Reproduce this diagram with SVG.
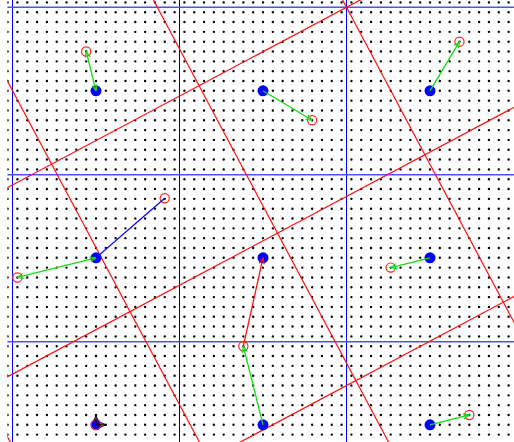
<svg xmlns="http://www.w3.org/2000/svg" width="514" height="442" viewBox="0 0 514 442">
<style>
.dots{fill:none;stroke:#000;stroke-width:2.4;stroke-linecap:round;stroke-dasharray:0 9.8235}
.vline{stroke:#0000ff;stroke-width:1;fill:none}
.hline{stroke:#5050ff;stroke-width:1.6;fill:none}
.rline{stroke:#ff1010;stroke-width:1.2;fill:none}
.node{fill:#0000ff}
.target{fill:none;stroke:#ff2020;stroke-width:1.2}
.ga{stroke:#11dd11;stroke-width:1.3;fill:none}
.ra{stroke:#ff1010;stroke-width:1.3;fill:none}
.ba{stroke:#0000ff;stroke-width:1.2;fill:none}
.ax{stroke:#000;stroke-width:1.2;fill:none}
</style>
<defs>
<clipPath id="area"><rect x="7.4" y="0" width="507" height="442"/></clipPath>
<marker id="hg" viewBox="0 0 8 8" refX="7.5" refY="4" markerWidth="7" markerHeight="7" markerUnits="userSpaceOnUse" orient="auto-start-reverse"><path d="M0.5,1 L7.5,4 L0.5,7" fill="none" stroke="#11dd11" stroke-width="1.3"/></marker>
<marker id="hr" viewBox="0 0 8 8" refX="7.5" refY="4" markerWidth="7" markerHeight="7" markerUnits="userSpaceOnUse" orient="auto-start-reverse"><path d="M0.5,1 L7.5,4 L0.5,7" fill="none" stroke="#ff1010" stroke-width="1.3"/></marker>
<marker id="hk" viewBox="0 0 8 8" refX="7.5" refY="4" markerWidth="6" markerHeight="6" markerUnits="userSpaceOnUse" orient="auto"><path d="M0.5,1 L7.5,4 L0.5,7" fill="none" stroke="#000" stroke-width="1.3"/></marker>
</defs>
<rect width="514" height="442" fill="#fff"/>
<g clip-path="url(#area)">
<g id="dot-grid">
<path class="dots" d="M7.59 2.39H514M7.59 12.21H514M7.59 22.04H514M7.59 31.86H514M7.59 41.68H514M7.59 51.51H514M7.59 61.33H514M7.59 71.15H514M7.59 80.98H514M7.59 90.8H514M7.59 100.63H514M7.59 110.45H514M7.59 120.27H514M7.59 130.1H514M7.59 139.92H514M7.59 149.74H514M7.59 159.57H514M7.59 169.39H514M7.59 179.21H514M7.59 189.04H514M7.59 198.86H514M7.59 208.68H514M7.59 218.51H514M7.59 228.33H514M7.59 238.15H514M7.59 247.98H514M7.59 257.8H514M7.59 267.62H514M7.59 277.45H514M7.59 287.27H514M7.59 297.1H514M7.59 306.92H514M7.59 316.74H514M7.59 326.57H514M7.59 336.39H514M7.59 346.21H514M7.59 356.04H514M7.59 365.86H514M7.59 375.68H514M7.59 385.51H514M7.59 395.33H514M7.59 405.15H514M7.59 414.98H514M7.59 424.8H514M7.59 434.62H514"/>
</g>
<g id="blue-grid">
<line class="vline" x1="12.5" y1="0" x2="12.5" y2="442"/>
<line class="vline" x1="179.5" y1="0" x2="179.5" y2="442" style="stroke:#00007a"/>
<line class="vline" x1="346.5" y1="0" x2="346.5" y2="442"/>
<line class="hline" x1="0" y1="7.3" x2="514" y2="7.3"/>
<line class="hline" x1="0" y1="174.7" x2="514" y2="174.7"/>
<line class="hline" x1="0" y1="341.8" x2="514" y2="341.8"/>
</g>
<g id="rotated-grid" transform="rotate(-28 346.5 7.3)">
<line class="rline" x1="-800" y1="7.3" x2="1400" y2="7.3"/>
<line class="rline" x1="-800" y1="174.3" x2="1400" y2="174.3"/>
<line class="rline" x1="-800" y1="341.3" x2="1400" y2="341.3"/>
<line class="rline" x1="346.5" y1="-800" x2="346.5" y2="1400"/>
<line class="rline" x1="179.5" y1="-800" x2="179.5" y2="1400"/>
<line class="rline" x1="12.5" y1="-800" x2="12.5" y2="1400"/>
<line class="rline" x1="-154.5" y1="-800" x2="-154.5" y2="1400"/>
</g>
</g>
<g id="node-0-0"><circle class="node" cx="96" cy="90.8" r="5.5"/></g>
<g id="node-1-0"><circle class="node" cx="263" cy="90.8" r="5.5"/></g>
<g id="node-2-0"><circle class="node" cx="430" cy="90.8" r="5.5"/></g>
<g id="node-0-1"><circle class="node" cx="96" cy="257.8" r="5.5"/></g>
<g id="node-1-1"><circle class="node" cx="263" cy="257.8" r="5.5"/></g>
<g id="node-2-1"><circle class="node" cx="430" cy="257.8" r="5.5"/></g>
<g id="node-0-2"><circle class="node" cx="96" cy="424.8" r="5.5"/><circle class="target" cx="96" cy="424.8" r="4.8"/></g>
<g id="node-1-2"><circle class="node" cx="263" cy="424.8" r="5.5"/></g>
<g id="node-2-2"><circle class="node" cx="430" cy="424.8" r="5.5"/></g>
<g id="target-a"><circle class="target" cx="86.18" cy="51.51" r="4.6"/></g>
<g id="target-b"><circle class="target" cx="312.12" cy="120.27" r="4.6"/></g>
<g id="target-c"><circle class="target" cx="459.47" cy="41.68" r="4.6"/></g>
<g id="target-d"><circle class="target" cx="17.41" cy="277.45" r="4.6"/></g>
<g id="target-e"><circle class="target" cx="164.7" cy="198.2" r="4.6"/></g>
<g id="target-f"><circle class="target" cx="390.7" cy="267.62" r="4.6"/></g>
<g id="target-g"><circle class="target" cx="469.29" cy="414.98" r="4.6"/></g>
<g id="target-h"><circle class="target" cx="243.35" cy="346.21" r="4.6"/></g>
<g id="connectors">
<line class="ga" x1="96" y1="90.8" x2="86.18" y2="51.51" marker-start="url(#hg)" marker-end="url(#hg)"/>
<line class="ga" x1="263" y1="90.8" x2="312.12" y2="120.27" marker-end="url(#hg)"/>
<line class="ga" x1="430" y1="90.8" x2="459.47" y2="41.68" marker-end="url(#hg)"/>
<line class="ga" x1="96" y1="257.8" x2="17.41" y2="277.45" marker-start="url(#hg)" marker-end="url(#hg)"/>
<line class="ba" x1="96" y1="257.8" x2="164.7" y2="198.2"/>
<line class="ga" x1="430" y1="257.8" x2="390.7" y2="267.62" marker-end="url(#hg)"/>
<line class="ra" x1="243.35" y1="346.21" x2="263" y2="257.8" marker-end="url(#hr)"/>
<line class="ga" x1="263" y1="424.8" x2="243.35" y2="346.21" marker-end="url(#hg)"/>
<line class="ga" x1="430" y1="424.8" x2="469.29" y2="414.98" marker-end="url(#hg)"/>
<line class="ax" x1="96" y1="424.8" x2="106" y2="424.8" marker-end="url(#hk)"/>
<line class="ax" x1="96" y1="424.8" x2="96" y2="415.5" marker-end="url(#hk)"/>
</g>
</svg>
